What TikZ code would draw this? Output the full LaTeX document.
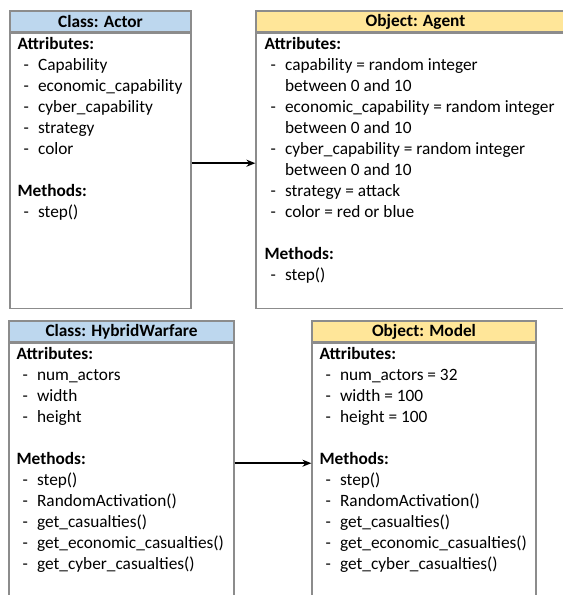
\documentclass[tikz,border=0pt]{standalone}
\usepackage{fontspec}
\setmainfont{Carlito}
\usetikzlibrary{positioning}
\usetikzlibrary{arrows.meta}
\tikzset{>={Stealth[length=9bp,width=7bp]}}
\definecolor{clsblue}{RGB}{189,215,238}
\definecolor{objyellow}{RGB}{255,230,153}
\definecolor{boxgray}{RGB}{140,140,140}
\newcommand{\itm}{\hbox to 20.5bp{\hskip 6bp -\hfil}}
\newcommand{\cnt}{\hbox to 20.5bp{\hfil}}
\tikzset{
  head/.style={draw=boxgray, line width=1.2bp, inner sep=0pt, minimum height=21bp,
    font=\fontsize{17.3bp}{21bp}\selectfont\bfseries},
  boxbody/.style={draw=boxgray, line width=1.2bp, inner sep=0pt},
  members/.style={inner sep=0pt, align=left, font=\fontsize{17.3bp}{21bp}\selectfont}
}

\begin{document}
\begin{tikzpicture}[x=1bp,y=-1bp]
	\useasboundingbox (0,0) rectangle (563,595);
	\clip (0,0) rectangle (563,595);
	% classes and objects
	\node[head, fill=clsblue, minimum width=181bp] (actorhead) at (100.5,21.5) {Class: Actor};
	\node[boxbody, minimum width=181bp, minimum height=275bp, below=0pt of actorhead] (actor) {};
	\node[head, fill=objyellow, minimum width=319bp] (agenthead) at (415.5,21.5) {Object: Agent};
	\node[boxbody, minimum width=319bp, minimum height=275bp, below=0pt of agenthead] (agent) {};
	\node[head, fill=clsblue, minimum width=225bp] (hybridhead) at (121.5,331.5) {Class: HybridWarfare};
	\node[boxbody, minimum width=225bp, minimum height=263bp, below=0pt of hybridhead] (hybrid) {};
	\node[head, fill=objyellow, minimum width=224bp] (modelhead) at (424,331.5) {Object: Model};
	\node[boxbody, minimum width=224bp, minimum height=263bp, below=0pt of modelhead] (model) {};
	% members
	\node[members, anchor=north west] (actorlist) at ([xshift=8bp,yshift=-5bp]actorhead.south west)
	  {\textbf{Attributes:}\\ \itm Capability\\ \itm economic\_capability\\ \itm cyber\_capability\\
	   \itm strategy\\ \itm color\\[21bp] \textbf{Methods:}\\ \itm step()};
	\node[members, anchor=north west] (agentlist) at ([xshift=9bp,yshift=-5bp]agenthead.south west)
	  {\textbf{Attributes:}\\ \itm capability = random integer\\ \cnt between 0 and 10\\
	   \itm economic\_capability = random integer\\ \cnt between 0 and 10\\
	   \itm cyber\_capability = random integer\\ \cnt between 0 and 10\\
	   \itm strategy = attack\\ \itm color = red or blue\\[21bp] \textbf{Methods:}\\ \itm step()};
	\node[members, anchor=north west] (hybridlist) at ([xshift=8bp,yshift=-5bp]hybridhead.south west)
	  {\textbf{Attributes:}\\ \itm num\_actors\\ \itm width\\ \itm height\\[21bp]
	   \textbf{Methods:}\\ \itm step()\\ \itm RandomActivation()\\ \itm get\_casualties()\\
	   \itm get\_economic\_casualties()\\ \itm get\_cyber\_casualties()};
	\node[members, anchor=north west] (modellist) at ([xshift=8bp,yshift=-5bp]modelhead.south west)
	  {\textbf{Attributes:}\\ \itm num\_actors = 32\\ \itm width = 100\\ \itm height = 100\\[21bp]
	   \textbf{Methods:}\\ \itm step()\\ \itm RandomActivation()\\ \itm get\_casualties()\\
	   \itm get\_economic\_casualties()\\ \itm get\_cyber\_casualties()};
	% instantiation arrows
	\draw[->, line width=1.5bp] ([yshift=7.5bp]actor.east) -- ([yshift=7.5bp]agent.west);
	\draw[->, line width=1.5bp] ([yshift=11.5bp]hybrid.east) -- ([yshift=11.5bp]model.west);
\end{tikzpicture}
\end{document}
